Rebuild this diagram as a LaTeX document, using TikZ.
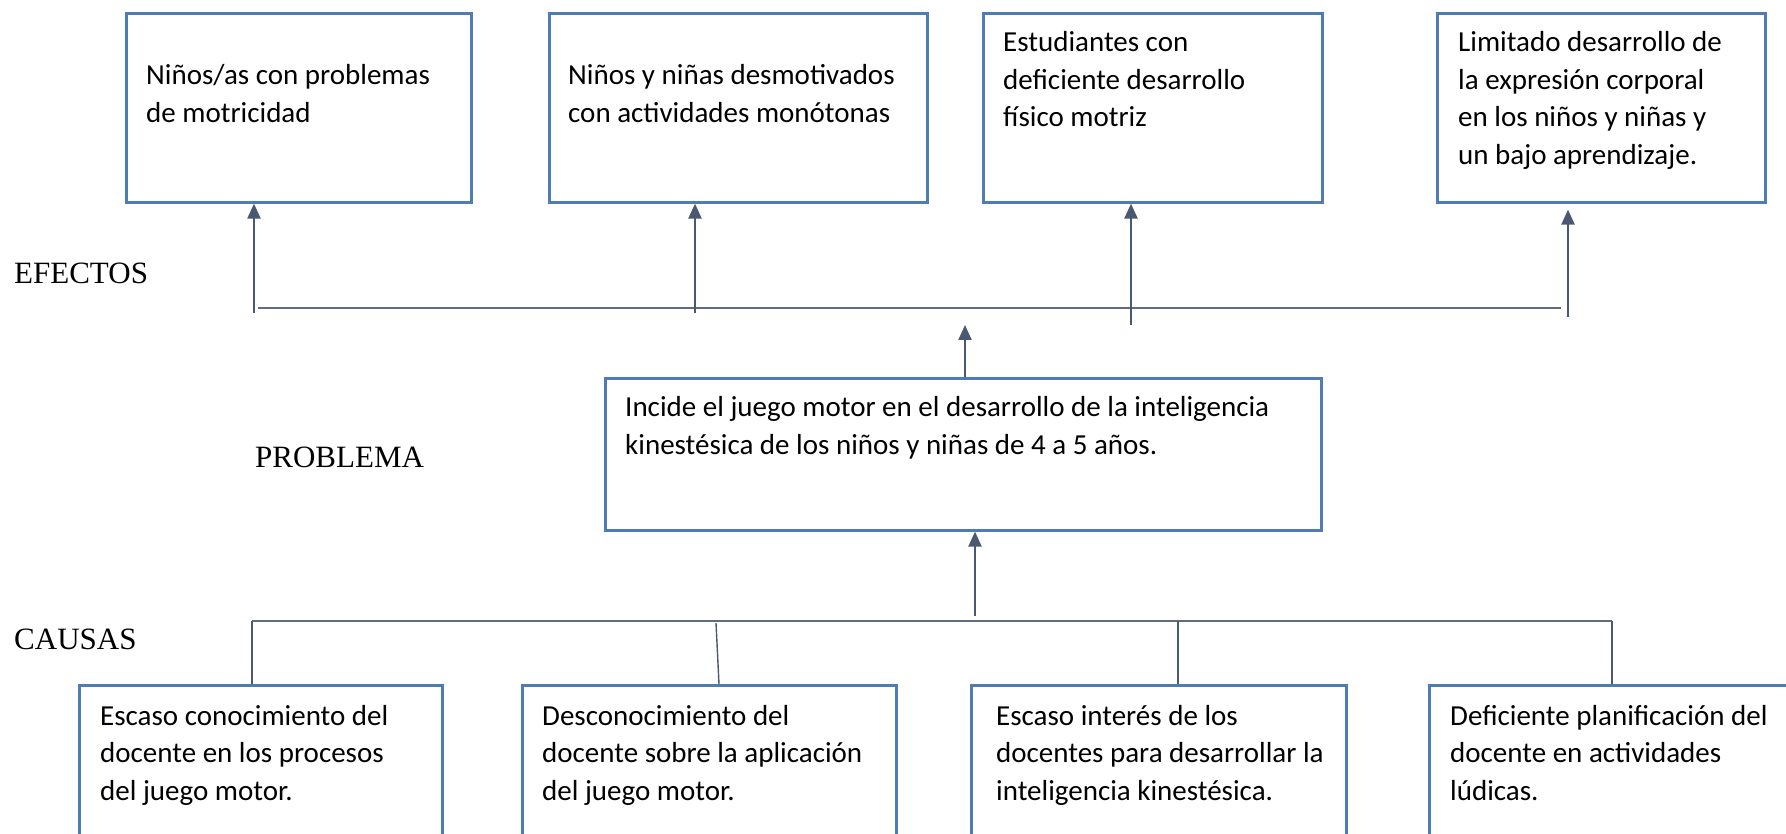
\documentclass[tikz,border=0pt]{standalone}
\usepackage{fontspec}
\setmainfont{Carlito}
\newfontfamily\lblfont{Liberation Serif}
\usetikzlibrary{arrows.meta}
\definecolor{boxblue}{HTML}{4F7DB3}
\definecolor{linegray}{HTML}{4A5872}
\definecolor{hgray}{HTML}{5E6C80}
\tikzset{
  box/.style={draw=boxblue, line width=2.6pt, rectangle, inner sep=0pt, anchor=north west},
  txt/.style={anchor=base west, inner sep=0pt, align=left, font=\fontsize{29}{37.5}\selectfont},
  lbl/.style={anchor=base west, inner sep=0pt, font=\lblfont\fontsize{31}{36}\selectfont},
  arr/.style={draw=linegray, line width=2.2pt, -{Triangle[length=15pt,width=13pt]}},
  hline/.style={draw=hgray, line width=2.2pt},
  thin/.style={draw=linegray, line width=1.4pt}
}
\begin{document}
\begin{tikzpicture}[x=1pt,y=-1pt]
\useasboundingbox (0,0) rectangle (1786,834);
\clip (0,0) rectangle (1786,834);
% top effect boxes
\node[box, minimum width=345pt, minimum height=189pt] (t1) at (125,12) {};
\node[box, minimum width=378pt, minimum height=189pt] (t2) at (548,12) {};
\node[box, minimum width=339pt, minimum height=189pt] (t3) at (982,12) {};
\node[box, minimum width=328pt, minimum height=189pt] (t4) at (1436,12) {};
% text nodes: anchor is the baseline of the last line
\node[txt] (tt1) at (146,122.5) {Niños/as con problemas\\de motricidad};
\node[txt] (tt2) at (568,122.5) {Niños y niñas desmotivados\\con actividades monótonas};
\node[txt] (tt3) at (1003,127) {Estudiantes con\\deficiente desarrollo\\físico motriz};
\node[txt] (tt4) at (1458,164.5) {Limitado desarrollo de\\la expresión corporal\\en los niños y niñas y\\un bajo aprendizaje.};
% problem box
\node[box, minimum width=716pt, minimum height=152pt] (p) at (604,377) {};
\node[txt] (pt) at (625,454) {Incide el juego motor en el desarrollo de la inteligencia\\kinestésica de los niños y niñas de 4 a 5 años.};
% bottom cause boxes
\node[box, minimum width=363pt, minimum height=200pt] (b1) at (78,684) {};
\node[box, minimum width=374pt, minimum height=200pt] (b2) at (521,684) {};
\node[box, minimum width=375pt, minimum height=200pt] (b3) at (970,684) {};
\node[box, minimum width=400pt, minimum height=200pt] (b4) at (1428,684) {};
\node[txt] (bt1) at (100,800) {Escaso conocimiento del\\docente en los procesos\\del juego motor.};
\node[txt] (bt2) at (542,800) {Desconocimiento del\\docente sobre la aplicación\\del juego motor.};
\node[txt] (bt3) at (996,800) {Escaso interés de los\\docentes para desarrollar la\\inteligencia kinestésica.};
\node[txt] (bt4) at (1450,800) {Deficiente planificación del\\docente en actividades\\lúdicas.};
% side labels
\node[lbl] (lefe) at (14,284) {EFECTOS};
\node[lbl] (lpro) at (255,467) {PROBLEMA};
\node[lbl] (lcau) at (14,649) {CAUSAS};
% effects connectors
\coordinate (eL) at (258,308);
\coordinate (eR) at (1561,308);
\draw[hline] (eL) -- (eR);
\coordinate (e1) at (254,313);
\coordinate (e2) at (695,313);
\coordinate (e3) at (1131,325);
\coordinate (e4) at (1568,317);
\draw[arr] (e1) -- (e1 |- t1.south);
\draw[arr] (e2) -- (e2 |- t2.south);
\draw[arr] (e3) -- (e3 |- t3.south);
\draw[arr] (e4) -- ([yshift=-6pt]e4 |- t4.south);
\coordinate (pu) at (965,325);
\draw[arr] (p.north -| pu) -- (pu);
% causes connectors
\coordinate (c0) at (975,616);
\draw[arr] (c0) -- (c0 |- p.south);
\coordinate (cL) at (252,621);
\coordinate (cR) at (1612,621);
\draw[hline, line width=1.8pt] (cL) -- (cR);
\draw[thin] (cL) -- (cL |- b1.north);
\coordinate (c2) at (716,623);
\draw[thin] (c2) -- ([xshift=3pt]c2 |- b2.north);
\coordinate (c3) at (1178,621);
\draw[thin] (c3) -- (c3 |- b3.north);
\draw[thin] (cR) -- (cR |- b4.north);
\end{tikzpicture}
\end{document}
